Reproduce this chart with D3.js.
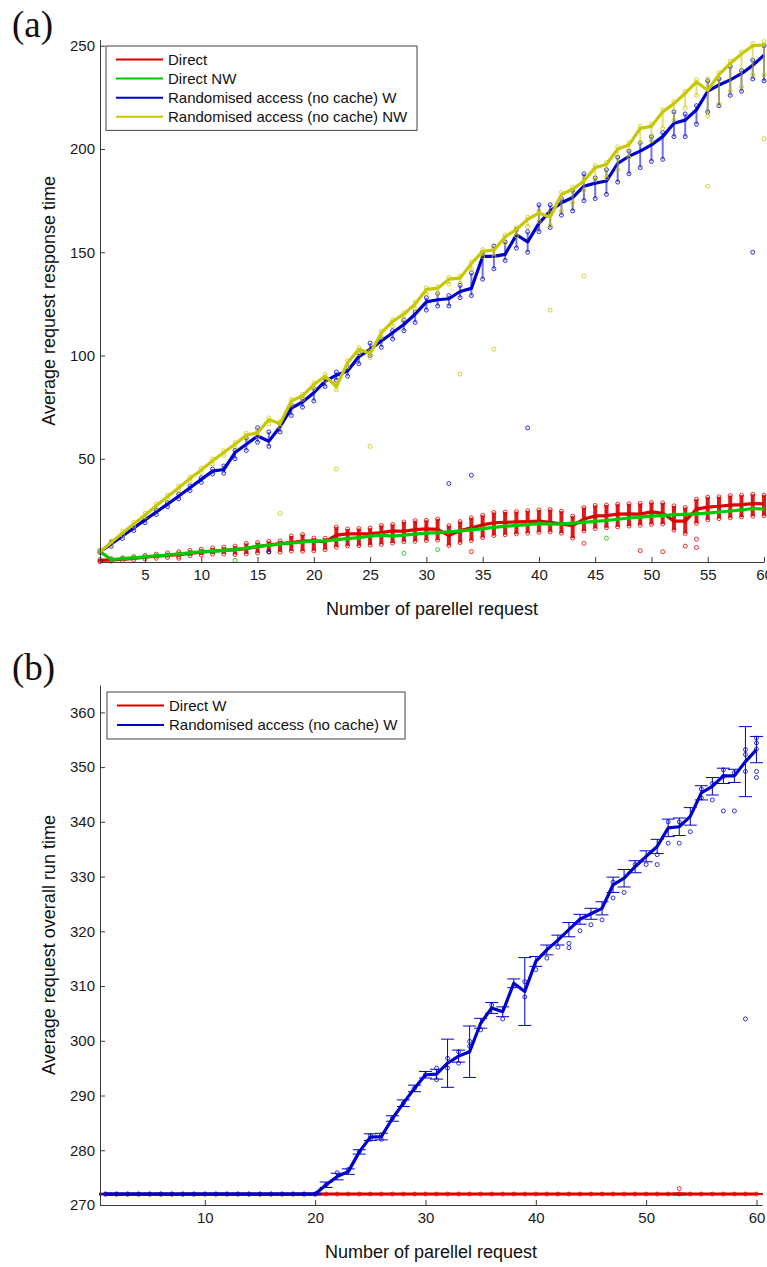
<!DOCTYPE html>
<html><head><meta charset="utf-8">
<script src="https://cdn.jsdelivr.net/npm/d3@7"></script>
<style>
body{margin:0;background:#fff}
svg{display:block}
text{font-family:"Liberation Sans",Arial,sans-serif}
</style>
</head><body>
<svg id="c" width="767" height="1267"></svg>
<script>
// ---------- DATA ----------
const requests = d3.range(1, 61); // number of parallel requests 1..60

// Panel (a): average request response time
const directA = [0.8,1,1.3,1.8,2.3,2.8,3.2,3.6,4.2,4.8, 5.2,5.6,6,6.5,7.5,8.2,8.9,9.4,10.1,10.2, 9.9,13,13.6,13.6,13.7,14.2,15.1,14.9,15.7,16, 15.8,12.8,15.2,16.5,18,19,19.2,19.4,19.6,19.8, 19.2,18.4,17.6,20.8,22.3,22.5,23.2,23.3,23.2,24.3, 23.6,19.8,19.8,25.6,26.6,27,27.5,27.8,28.3,28.2];
const directLoA = [0.3,0.4,0.6,1.0,1.4,1.8,2.2,2.6,3.0,3.4, 3.8,3.9,3.6,3.9,4.4,4.8,4.9,5.3,5.2,5.4, 6.0,7.2,7.8,7.9,8.2,8.5,9.2,9.8,10.0,10.4, 10.6,8.0,9.4,10.4,11.8,12.8,13.2,13.6,14.0,14.4, 14.6,14.0,11.6,15.0,16.2,16.6,17.0,17.4,17.8,18.2, 18.4,15.4,13.8,18.8,20.4,21.0,21.4,21.8,22.2,22.4];
const directHiA = [1.2,1.6,2.0,2.6,3.2,3.8,4.4,5.0,5.6,6.2, 6.8,7.2,7.7,9.0,9.4,10.0,10.2,12.6,13.3,11.6, 11.5,16.9,16.0,16.2,16.4,17.7,18.2,19.4,20.0,20.2, 20.8,17.6,19.6,21.4,22.6,24.0,24.2,24.4,24.8,25.2, 25.4,24.6,22.2,26.4,27.4,27.6,28.0,28.2,28.4,28.8, 28.6,27.2,26.4,30.4,31.4,31.6,32.2,32.4,32.8,32.4];
const directOutA = [[1,0.3],[8,1.8],[34,5],[44,9],[49,5.5],[51,5],[53,7.7],[54,7],[54,11]];

const directNWA = [5,1.2,1.6,2,2.5,3,3.4,3.9,4.4,5, 5.3,5.6,6,6.8,7.6,8.1,8.7,9.2,9.7,10.1, 10.2,10.8,11.3,11.8,12.5,13,12.5,13,13.5,14, 14.2,14.6,15.1,15.6,16.2,16.8,17.3,17.7,18.1,18.6, 18.3,18.5,18.8,19.2,19.7,20.1,20.7,21.3,21.7,22.2, 22.5,22.9,23.1,23.3,23.7,24.2,24.7,25.2,25.9,25.6];
const directNWOutA = [[13,0.8],[28,4.2],[31,6],[46,11.5]];

const randWA = [5,8.8,12.6,16.5,20.4,24.2,28,32,36,40, 44,44.8,53,57,61,58.5,65.5,74.5,77.5,82, 87.5,90.5,92.5,99.5,103,107,111,115,120,126, 127,127.5,131,132.5,148,148,149,158.5,155,164, 170,174,176.5,182,183.5,184.5,193,196.5,199,202, 206,212.5,214,219,228,231,233.5,236.5,240.5,245.5];
const randWLoA = [4.5,7.6,11.4,15.2,19,23,26.8,30.6,34.6,38.6, 42.6,43,50,54,58,56,63,71,75,78, 85,88,90,96,100,104,108,112,116,122, 124,124,128,129,137,142,146,152,150,160, 162,168,170,175,176,178,184,188,191,194, 195,206,206,212,218,221,226,228,234,233];
const randWHiA = [5.5,9.6,13.4,17.3,21.2,25,28.8,32.8,36.8,40.8, 45,46.5,54,60,65,63,67,76,79,84, 89,92,94,101,106,108,112,117,121,128, 130,129,134,140,150,153,155,161,160,173, 173,176,180,188,186,190,196,199,203,206, 208,218,217,221,233,234,240,238,243,250];
const randWOutA = [[16,5],[32,38],[34,42],[39,65],[59,150]];

const randNWA = [5,9.5,14,18.4,22.8,27.2,31.6,36,40.4,44.6, 49,53,57,61.5,62.5,69,67,78,80.5,86, 90,85,96.5,103,101,111,116.5,120,125,132, 132.5,137,137.5,144.5,150.5,151,157.5,161,166,169, 167,178,180.5,184.5,191,192.5,200,202,210,211, 218,222,227,232.5,228.5,236,241.5,246,250,250.5];
const randNWLoA = [4.5,8.5,13,17.4,21.8,26.2,30.4,34.8,39.2,43.4, 47.6,51.6,55.4,59.8,61,67,65.4,76,78.8,84, 88,83.4,94.6,101,99,109,114.4,117.8,122.8,129.6, 130,134.6,135,141.6,147.8,148,154.6,158,162.4,165, 163,170,174,180,185,186,190,196,203,204, 210,214,220,226,216,222,228,230,236,236];
const randNWHiA = [5.5,10.2,14.8,19.2,23.6,28,32.4,36.8,41.2,45.4, 49.8,53.8,57.8,62.3,63.4,69.8,68,78.8,81.3,86.8, 90.8,86,97.4,103.8,102,111.8,117.3,120.8,125.8,132.8, 133.3,137.8,138.4,145.4,151.3,152,158.4,162,167,170, 169,179,181.5,185.5,192,193.5,201,203,211,212, 219,223,228,233.5,234,237,242.5,247,251,252];
const randNWOutA = [[17,23.5],[22,45],[25,56],[33,91],[36,103],[41,122],[44,138.5],[55,182],[60,205]];

const xTicksA = [5,10,15,20,25,30,35,40,45,50,55,60];
const yTicksA = [50,100,150,200,250];
const legendA = ["Direct","Direct NW","Randomised access (no cache) W","Randomised access (no cache) NW"];

// Panel (b): average request overall run time
const directWB = [272,272,272,272,272,272,272,272,272,272, 272,272,272,272,272,272,272,272,272,272, 272,272,272,272,272,272,272,272,272,272, 272,272,272,272,272,272,272,272,272,272, 272,272,272,272,272,272,272,272,272,272, 272,272,272,272,272,272,272,272,272,272];
const directWErrB = [0.1,0.1,0.1,0.1,0.1,0.1,0.1,0.1,0.1,0.1, 0.1,0.1,0.1,0.1,0.1,0.1,0.1,0.1,0.1,0.1, 0.1,0.1,0.1,0.1,0.1,0.1,0.1,0.1,0.1,0.1, 0.1,0.1,0.1,0.1,0.1,0.1,0.1,0.1,0.1,0.1, 0.1,0.1,0.1,0.1,0.1,0.1,0.1,0.1,0.1,0.1, 0.1,0.1,0.2,0.1,0.1,0.1,0.1,0.1,0.1,0.1];
const directWOutB = [[53,273]];

const randWB = [272,272,272,272,272,272,272,272,272,272, 272,272,272,272,272,272,272,272,272,272, 273.7,275.2,276.1,279.7,282.4,282.5,285.8,288.6,291.3,293.8, 293.9,295.9,297.2,298,303.2,306,305.3,310.5,309,314.5, 316.6,318.4,320.3,322.2,323.2,324.2,328.5,329.7,331.8,333.7, 335.5,338.9,339.1,341,345.3,346.5,348.4,348.4,351,353.2];
const randWErrB = [0.15,0.15,0.15,0.15,0.15,0.15,0.15,0.15,0.15,0.15, 0.15,0.15,0.15,0.15,0.15,0.15,0.15,0.15,0.15,0.15, 0.5,0.6,0.5,0.4,0.6,0.6,0.5,0.6,0.6,0.6, 0.9,4.4,1.1,4.7,0.9,1.0,0.9,0.8,6.2,0.9, 0.9,0.9,1.3,0.9,1.0,1.2,1.4,1.6,1.1,1.0, 1.3,1.6,1.6,1.6,1.3,1.6,1.4,1.2,6.4,2.4];
const randWSamplesB = [[21,273.7],[22,275.9],[23,276.5],[24,279.7],[25,282.7],[25,282.0],[26,282.8],[26,282.0],[27,285.8],[28,288.6],[29,291.3],[30,293.8],
  [31,295],[31,292.9],[32,296.8],[32,295],[33,298],[33,295.9],[34,299.9],[34,299],[35,302],[36,306.5],[37,304],[39,310.8],[39,308],
  [40,313],[41,315.1],[42,317.1],[43,317.8],[43,317],[44,320.1],[45,321.2],[46,322.1],[47,326.1],[47,329],[48,327.1],[49,332.2],[50,332.2],
  [51,334],[51,332.2],[52,336.1],[52,340],[53,336.1],[53,340],[54,338.2],[55,344.4],[55,346],[56,344],[56,347],[57,342],[57,348.3],[57,349.5],
  [58,342],[58,349],[59,353.2],[59,352.3],[59,349.2],[60,355.3],[60,354.4],[60,353.3],[60,349.2],[60,348.1],[59,304]];

const xTicksB = [10,20,30,40,50,60];
const yTicksB = [270,280,290,300,310,320,330,340,350,360];
const legendB = ["Direct W","Randomised access (no cache) W"];

// ---------- STYLE ----------
const COL = {red:"#dd0000", green:"#00c800", blue:"#0000cc", yellow:"#c8c800"};
const svg = d3.select("#c");

function drawAxes(g, x, y, xt, yt) {
  const y0 = y.range()[0], x0 = x.range()[0];
  const ax = g.append("g").attr("transform", `translate(0,${y0})`)
    .call(d3.axisBottom(x).tickValues(xt).tickSizeInner(-5).tickSizeOuter(0).tickPadding(7));
  const ay = g.append("g").attr("transform", `translate(${x0},0)`)
    .call(d3.axisLeft(y).tickValues(yt).tickSizeInner(-5).tickSizeOuter(0).tickPadding(5));
  [ax, ay].forEach(a => {
    a.attr("font-family", null).attr("font-size", null);
    a.select(".domain").attr("stroke", "#3a3a3a");
    a.selectAll(".tick line").attr("stroke", "#3a3a3a");
    a.selectAll(".tick text").attr("fill", "#1a1a1a").style("font-size", "15px")
      .style("font-family", '"Liberation Sans",Arial,sans-serif');
  });
}

function circles(g, pts, x, y, color) {
  g.selectAll(null).data(pts).enter().append("circle")
    .attr("cx", d => x(d[0])).attr("cy", d => y(d[1])).attr("r", 2)
    .attr("fill", "none").attr("stroke", color).attr("stroke-width", 0.8);
}

function streaks(g, lo, hi, x, y, color, w, op) {
  const d = requests.map((r, i) => [r, lo[i], hi[i]]);
  g.selectAll(null).data(d).enter().append("line")
    .attr("x1", d => x(d[0])).attr("x2", d => x(d[0]))
    .attr("y1", d => y(d[1])).attr("y2", d => y(d[2]))
    .attr("stroke", color).attr("stroke-width", w).attr("stroke-opacity", op);
  circles(g, d.map(v => [v[0], v[1]]), x, y, color);
  circles(g, d.map(v => [v[0], v[2]]), x, y, color);
}

function meanLine(g, vals, x, y, color, w) {
  g.append("path").datum(requests.map((r, i) => [r, vals[i]]))
    .attr("d", d3.line().x(d => x(d[0])).y(d => y(d[1])))
    .attr("fill", "none").attr("stroke", color).attr("stroke-width", w)
    .attr("stroke-linejoin", "round");
}

function legend(g, x0, y0, w, rowH, labels, colors) {
  const h = rowH * labels.length + 8;
  g.append("rect").attr("x", x0).attr("y", y0).attr("width", w).attr("height", h)
    .attr("fill", "#fff").attr("stroke", "#444").attr("stroke-width", 1);
  labels.forEach((l, i) => {
    const cy = y0 + 13.5 + i * rowH;
    g.append("line").attr("x1", x0 + 10).attr("x2", x0 + 57).attr("y1", cy).attr("y2", cy)
      .attr("stroke", colors[i]).attr("stroke-width", 2);
    g.append("text").attr("x", x0 + 62).attr("y", cy).attr("dy", "0.35em")
      .attr("font-size", 15).attr("fill", "#111").text(l);
  });
}

function axisTitles(g, x, y, xl, yl) {
  const [x0, x1] = x.range(), [y0, y1] = y.range();
  g.append("text").attr("x", (x0 + x1) / 2).attr("y", y0 + 53).attr("text-anchor", "middle")
    .attr("font-size", 18).attr("fill", "#111").text(xl);
  g.append("text").attr("transform", `translate(55,${(y0 + y1) / 2}) rotate(-90)`)
    .attr("text-anchor", "middle").attr("font-size", 18).attr("fill", "#111").text(yl);
}

// ---------- PANEL (a) ----------
const xA = d3.scaleLinear().domain([1, 60]).range([100, 764]);
const yA = d3.scaleLinear().domain([0, 253]).range([562, 39.6]);
const gA = svg.append("g");
gA.append("text").attr("x", 12).attr("y", 37).attr("font-size", 37)
  .style("font-family", '"Liberation Serif","DejaVu Serif",serif').attr("fill", "#111").text("(a)");

const pA = gA.append("g");
streaks(pA, directLoA, directHiA, xA, yA, COL.red, 4, 0.9);
circles(pA, directOutA, xA, yA, COL.red);
meanLine(pA, directA, xA, yA, COL.red, 3.2);

circles(pA, requests.map((r, i) => [r, directNWA[i]]), xA, yA, COL.green);
circles(pA, directNWOutA, xA, yA, COL.green);
meanLine(pA, directNWA, xA, yA, COL.green, 3.2);

streaks(pA, randWLoA, randWHiA, xA, yA, COL.blue, 2, 0.55);
circles(pA, randWOutA, xA, yA, COL.blue);
meanLine(pA, randWA, xA, yA, COL.blue, 3.2);

streaks(pA, randNWLoA, randNWHiA, xA, yA, COL.yellow, 2, 0.55);
circles(pA, randNWOutA, xA, yA, COL.yellow);
meanLine(pA, randNWA, xA, yA, COL.yellow, 3.2);

drawAxes(gA, xA, yA, xTicksA, yTicksA);
axisTitles(gA, xA, yA, "Number of parellel request", "Average request response time");
legend(gA, 106, 46, 311, 19.1, legendA, [COL.red, COL.green, COL.blue, COL.yellow]);

// ---------- PANEL (b) ----------
const xB = d3.scaleLinear().domain([0.5, 60.5]).range([100, 762]);
const yB = d3.scaleLinear().domain([270, 365]).range([1205, 685]);
const gB = svg.append("g");
gB.append("text").attr("x", 12).attr("y", 680).attr("font-size", 37)
  .style("font-family", '"Liberation Serif","DejaVu Serif",serif').attr("fill", "#111").text("(b)");

const pB = gB.append("g");
function errorBars(g, vals, errs, color) {
  const d = requests.map((r, i) => [r, vals[i], errs[i]]);
  const e = g.selectAll(null).data(d).enter().append("g").attr("stroke", color).attr("stroke-width", 1);
  e.append("line").attr("x1", d => xB(d[0])).attr("x2", d => xB(d[0]))
    .attr("y1", d => yB(d[1] - d[2])).attr("y2", d => yB(d[1] + d[2]));
  e.append("line").attr("x1", d => xB(d[0]) - 6.5).attr("x2", d => xB(d[0]) + 6.5)
    .attr("y1", d => yB(d[1] - d[2])).attr("y2", d => yB(d[1] - d[2]));
  e.append("line").attr("x1", d => xB(d[0]) - 6.5).attr("x2", d => xB(d[0]) + 6.5)
    .attr("y1", d => yB(d[1] + d[2])).attr("y2", d => yB(d[1] + d[2]));
}

circles(pB, requests.map((r, i) => [r, directWB[i]]), xB, yB, COL.red);
circles(pB, directWOutB, xB, yB, COL.red);
errorBars(pB, directWB, directWErrB, COL.red);
meanLine(pB, directWB, xB, yB, COL.red, 3);

circles(pB, requests.slice(0, 20).map((r, i) => [r, randWB[i]]), xB, yB, COL.blue);
circles(pB, randWSamplesB, xB, yB, COL.blue);
errorBars(pB, randWB, randWErrB, COL.blue);
meanLine(pB, randWB, xB, yB, COL.blue, 3.2);

drawAxes(gB, xB, yB, xTicksB, yTicksB);
axisTitles(gB, xB, yB, "Number of parellel request", "Average request overall run time");
legend(gB, 107, 692, 298, 19.5, legendB, [COL.red, COL.blue]);
</script>
</body></html>
